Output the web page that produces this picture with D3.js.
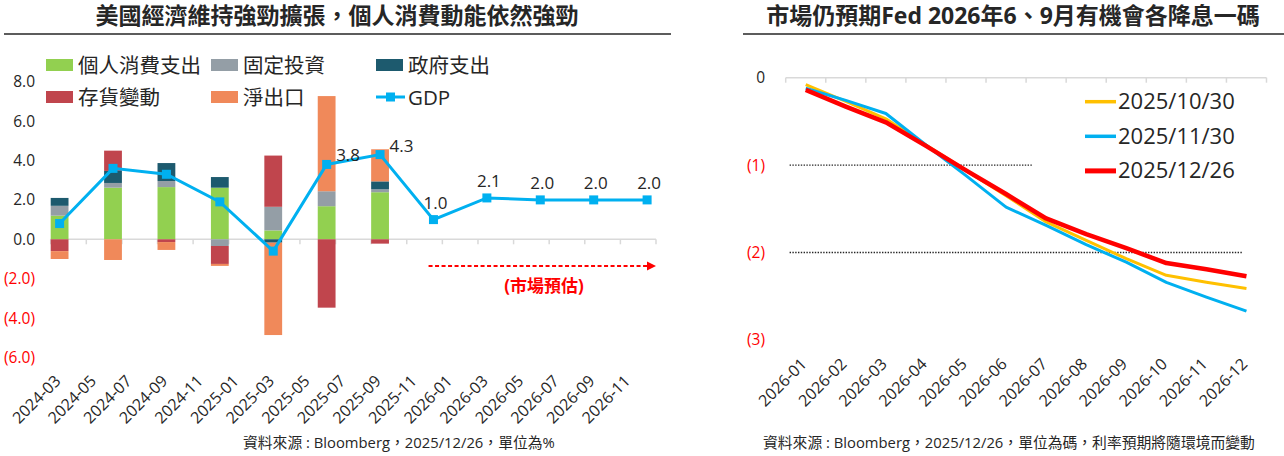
<!DOCTYPE html>
<html>
<head>
<meta charset="utf-8">
<script src="https://cdn.jsdelivr.net/npm/d3@7"></script>
<style>
  body { margin: 0; background: #fff; }
  svg { display: block; }
  text { font-family: "Open Sans", "Noto Sans CJK TC", sans-serif; fill: #262626; }
</style>
</head>
<body>
<svg id="chart" width="1284" height="456"></svg>
<script>
// left chart: GDP contributions by quarter (%)
var quarters    = ['2024-03', '2024-06', '2024-09', '2024-12', '2025-03', '2025-06', '2025-09'];
var consumption = [1.2, 2.62, 2.65, 2.62, 0.45, 1.68, 2.39];
var fixedInvest = [0.5, 0.24, 0.31, -0.34, 1.2, 0.76, 0.15];
var govSpend    = [0.4, 0.61, 0.91, 0.54, -0.17, 0, 0.4];
var inventory   = [-0.6, 1.03, -0.14, -0.91, 2.6, -3.47, -0.22];
var netExports  = [-0.4, -1.05, -0.4, -0.1, -4.69, 4.83, 1.63];

var gdpDates  = ['2024-03', '2024-06', '2024-09', '2024-12', '2025-03', '2025-06', '2025-09',
                 '2025-12', '2026-03', '2026-06', '2026-09', '2026-12'];
var gdpValues = [0.8, 3.6, 3.3, 1.9, -0.6, 3.8, 4.3, 1.0, 2.1, 2.0, 2.0, 2.0];

var xTickLabels = ['2024-03', '2024-05', '2024-07', '2024-09', '2024-11', '2025-01', '2025-03',
                   '2025-05', '2025-07', '2025-09', '2025-11', '2026-01', '2026-03', '2026-05',
                   '2026-07', '2026-09', '2026-11'];
var leftYTicks = [-6, -4, -2, 0, 2, 4, 6, 8];

// right chart: implied cumulative cuts (number of 25bp cuts)
var fedMonths = ['2026-01', '2026-02', '2026-03', '2026-04', '2026-05', '2026-06',
                 '2026-07', '2026-08', '2026-09', '2026-10', '2026-11', '2026-12'];
var cuts1030 = [-0.08, -0.27, -0.47, -0.77, -1.06, -1.35, -1.65, -1.86, -2.07, -2.26, -2.34, -2.41];
var cuts1130 = [-0.12, -0.26, -0.41, -0.77, -1.12, -1.48, -1.69, -1.91, -2.11, -2.34, -2.51, -2.67];
var cuts1226 = [-0.14, -0.33, -0.51, -0.78, -1.06, -1.33, -1.61, -1.79, -1.95, -2.12, -2.19, -2.27];
var rightYTicks = [-3, -2, -1, 0];

var svg = d3.select('#chart');
svg.append('rect').attr('width', 1284).attr('height', 456).attr('fill', '#fff');

var fmtMonth = d3.timeFormat('%Y-%m');
var negRed = '#ff0000';

function drawTitle(text, cx, x1, x2) {
  svg.append('text')
    .attr('x', cx).attr('y', 24)
    .attr('text-anchor', 'middle')
    .style('font-size', '23px').style('font-weight', 'bold')
    .text(text);
  svg.append('line')
    .attr('x1', x1).attr('x2', x2).attr('y1', 34).attr('y2', 34)
    .attr('stroke', '#262626').attr('stroke-width', 1.5);
}

function rotateLabels(g) {
  g.select('.domain').remove();
  g.selectAll('text')
    .attr('x', 0).attr('y', 0).attr('dy', 0)
    .attr('text-anchor', 'end')
    .attr('transform', 'rotate(-45)')
    .style('font-size', '16px');
}

// ---------- left chart ----------
drawTitle('美國經濟維持強勁擴張，個人消費動能依然強勁', 337, 4, 671);

var allMonths = d3.timeMonth.range(new Date(2024, 2, 1), new Date(2027, 0, 1)).map(fmtMonth);
var xL = d3.scaleBand().domain(allMonths).range([50.7, 656]);
var yL = d3.scaleLinear().domain([-6, 8]).range([357.5, 81.7]);
var bw = xL.bandwidth();

var yAxisL = svg.append('g')
  .attr('transform', 'translate(35,0)')
  .call(d3.axisLeft(yL).tickValues(leftYTicks).tickSize(0).tickPadding(0)
    .tickFormat(function(d) { return d < 0 ? '(' + Math.abs(d).toFixed(1) + ')' : d.toFixed(1); }));
yAxisL.select('.domain').remove();
yAxisL.selectAll('text')
  .style('font-size', '15.5px')
  .style('fill', function(d) { return d < 0 ? negRed : '#262626'; });

// zero line with tick marks every two months
svg.append('line')
  .attr('x1', xL.range()[0]).attr('x2', xL.range()[1])
  .attr('y1', yL(0)).attr('y2', yL(0))
  .attr('stroke', '#d9d9d9').attr('stroke-width', 1.5);
var tickXs = allMonths.filter(function(d, i) { return i % 2 === 0; }).map(function(d) { return xL(d); });
tickXs.push(xL.range()[1]);
svg.append('g').selectAll('line').data(tickXs).join('line')
  .attr('x1', function(d) { return d; }).attr('x2', function(d) { return d; })
  .attr('y1', yL(0)).attr('y2', yL(0) + 5)
  .attr('stroke', '#d9d9d9').attr('stroke-width', 1.5);

var seriesKeys = ['consumption', 'fixedInvest', 'govSpend', 'inventory', 'netExports'];
var seriesNames = ['個人消費支出', '固定投資', '政府支出', '存貨變動', '淨出口'];
var seriesColors = ['#92d050', '#949ea6', '#1d5a6e', '#c0454d', '#f0895a'];
var rows = quarters.map(function(q, i) {
  return { date: q, consumption: consumption[i], fixedInvest: fixedInvest[i],
           govSpend: govSpend[i], inventory: inventory[i], netExports: netExports[i] };
});
var stacked = d3.stack().keys(seriesKeys).offset(d3.stackOffsetDiverging)(rows);

svg.append('g').selectAll('g').data(stacked).join('g')
  .attr('fill', function(d, i) { return seriesColors[i]; })
  .selectAll('rect').data(function(d) { return d; }).join('rect')
  .attr('x', function(d) { return xL(d.data.date); })
  .attr('width', bw)
  .attr('y', function(d) { return yL(Math.max(d[0], d[1])); })
  .attr('height', function(d) { return Math.abs(yL(d[0]) - yL(d[1])); });

var xAxisL = svg.append('g')
  .attr('transform', 'translate(2,382)')
  .call(d3.axisBottom(xL).tickValues(xTickLabels).tickSize(0));
rotateLabels(xAxisL);

// GDP line
var gdp = gdpDates.map(function(d, i) { return { date: d, value: gdpValues[i], i: i }; });
var gx = function(d) { return xL(d.date) + bw / 2; };
var gy = function(d) { return yL(d.value); };
svg.append('path').datum(gdp)
  .attr('fill', 'none').attr('stroke', '#00b0f0').attr('stroke-width', 3)
  .attr('d', d3.line().x(gx).y(gy));
svg.append('g').selectAll('rect').data(gdp).join('rect')
  .attr('x', function(d) { return gx(d) - 4.5; }).attr('y', function(d) { return gy(d) - 4.5; })
  .attr('width', 9).attr('height', 9).attr('fill', '#00b0f0');
svg.append('g').selectAll('text').data(gdp.filter(function(d) { return d.i >= 5; })).join('text')
  .attr('x', function(d) { return d.i < 7 ? gx(d) + 9.5 : gx(d) + 2; })
  .attr('y', function(d) { return d.i < 7 ? gy(d) - 3 : gy(d) - 11; })
  .attr('text-anchor', function(d) { return d.i < 7 ? 'start' : 'middle'; })
  .style('font-size', '17px')
  .text(function(d) { return d.value.toFixed(1); });

// forecast arrow
var arrowY = yL(-1.35);
svg.append('line')
  .attr('x1', xL('2025-12') + 4).attr('x2', xL.range()[1] - 8)
  .attr('y1', arrowY).attr('y2', arrowY)
  .attr('stroke', negRed).attr('stroke-width', 2).attr('stroke-dasharray', '4,2.5');
svg.append('path')
  .attr('d', 'M' + (xL.range()[1] - 9) + ',' + (arrowY - 4.5) + 'L' + xL.range()[1] + ',' + arrowY +
             'L' + (xL.range()[1] - 9) + ',' + (arrowY + 4.5) + 'Z')
  .attr('fill', negRed);
svg.append('text')
  .attr('x', 544).attr('y', 292)
  .attr('text-anchor', 'middle')
  .style('font-size', '17px').style('font-weight', 'bold').style('fill', negRed)
  .text('(市場預估)');

// legend
var legendL = [
  { name: seriesNames[0], color: seriesColors[0], x: 46, y: 65 },
  { name: seriesNames[1], color: seriesColors[1], x: 211, y: 65 },
  { name: seriesNames[2], color: seriesColors[2], x: 376, y: 65 },
  { name: seriesNames[3], color: seriesColors[3], x: 46, y: 97 },
  { name: seriesNames[4], color: seriesColors[4], x: 211, y: 97 },
  { name: 'GDP', color: '#00b0f0', x: 376, y: 97, line: true }
];
legendL.forEach(function(l) {
  if (l.line) {
    svg.append('line').attr('x1', l.x).attr('x2', l.x + 29).attr('y1', l.y).attr('y2', l.y)
      .attr('stroke', l.color).attr('stroke-width', 3);
    svg.append('rect').attr('x', l.x + 10).attr('y', l.y - 4.5).attr('width', 9).attr('height', 9)
      .attr('fill', l.color);
  } else {
    svg.append('rect').attr('x', l.x).attr('y', l.y - 6).attr('width', 27).attr('height', 12)
      .attr('fill', l.color);
  }
  svg.append('text').attr('x', l.x + 32).attr('y', l.y + 7.5)
    .style('font-size', '20.5px').text(l.name);
});

svg.append('text').attr('x', 243).attr('y', 448)
  .style('font-size', '14.8px')
  .text('資料來源 : Bloomberg，2025/12/26，單位為%');

// ---------- right chart ----------
drawTitle('市場仍預期Fed 2026年6、9月有機會各降息一碼', 1013, 743, 1284);

var xR = d3.scaleBand().domain(fedMonths).range([785.7, 1266.5]);
var yR = d3.scaleLinear().domain([-3, 0]).range([340, 77.7]);

var yAxisR = svg.append('g')
  .attr('transform', 'translate(765,0)')
  .call(d3.axisLeft(yR).tickValues(rightYTicks).tickSize(0).tickPadding(0)
    .tickFormat(function(d) { return d < 0 ? '(' + Math.abs(d) + ')' : String(d); }));
yAxisR.select('.domain').remove();
yAxisR.selectAll('text')
  .style('font-size', '15.5px')
  .style('fill', function(d) { return d < 0 ? negRed : '#262626'; });

svg.append('line')
  .attr('x1', xR.range()[0]).attr('x2', xR.range()[1])
  .attr('y1', yR(0)).attr('y2', yR(0))
  .attr('stroke', '#d9d9d9').attr('stroke-width', 1.5);
var tickXR = fedMonths.map(function(d) { return xR(d); });
tickXR.push(xR.range()[1]);
svg.append('g').selectAll('line').data(tickXR).join('line')
  .attr('x1', function(d) { return d; }).attr('x2', function(d) { return d; })
  .attr('y1', yR(0)).attr('y2', yR(0) + 5)
  .attr('stroke', '#d9d9d9').attr('stroke-width', 1.5);

// dotted reference lines at one and two cuts
svg.append('line')
  .attr('x1', 789.6).attr('x2', 1032).attr('y1', yR(-1)).attr('y2', yR(-1))
  .attr('stroke', '#262626').attr('stroke-width', 1.4).attr('stroke-dasharray', '1.4,1.4');
svg.append('line')
  .attr('x1', 789.6).attr('x2', 1242).attr('y1', yR(-2)).attr('y2', yR(-2))
  .attr('stroke', '#262626').attr('stroke-width', 1.4).attr('stroke-dasharray', '1.4,1.4');

var xAxisR = svg.append('g')
  .attr('transform', 'translate(2,365)')
  .call(d3.axisBottom(xR).tickSize(0));
rotateLabels(xAxisR);

var rSeries = [
  { name: '2025/10/30', values: cuts1030, color: '#ffc000', width: 3 },
  { name: '2025/11/30', values: cuts1130, color: '#00b0f0', width: 3 },
  { name: '2025/12/26', values: cuts1226, color: '#ff0000', width: 4.5 }
];
var lineR = d3.line()
  .x(function(d, i) { return xR(fedMonths[i]) + xR.bandwidth() / 2; })
  .y(function(d) { return yR(d); });
rSeries.forEach(function(s, k) {
  svg.append('path').datum(s.values)
    .attr('fill', 'none').attr('stroke', s.color).attr('stroke-width', s.width)
    .attr('stroke-linejoin', 'round')
    .attr('d', lineR);
  var ly = 101.7 + k * 34.6;
  svg.append('line').attr('x1', 1085).attr('x2', 1116).attr('y1', ly).attr('y2', ly)
    .attr('stroke', s.color).attr('stroke-width', s.width + 0.5);
  svg.append('text').attr('x', 1118).attr('y', ly + 7.5)
    .style('font-size', '22px').text(s.name);
});

svg.append('text').attr('x', 763).attr('y', 448)
  .style('font-size', '14.8px')
  .text('資料來源 : Bloomberg，2025/12/26，單位為碼，利率預期將隨環境而變動');
</script>
</body>
</html>
